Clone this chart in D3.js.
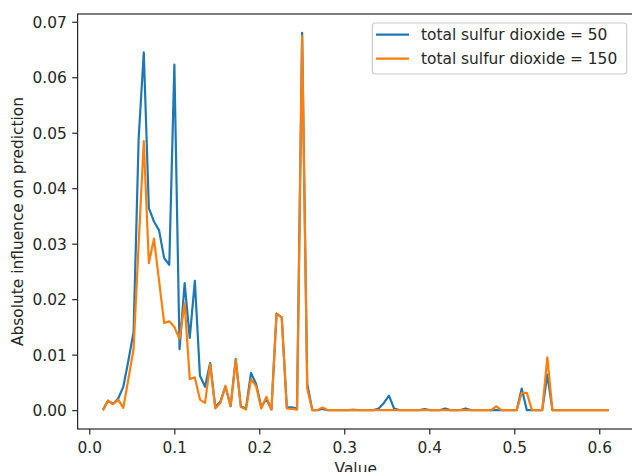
<!DOCTYPE html>
<html>
<head>
<meta charset="utf-8">
<script src="https://cdn.jsdelivr.net/npm/d3@7"></script>
<style>
  html, body { margin: 0; padding: 0; background: #fff; }
  svg { display: block; }
  text { font-family: "DejaVu Sans", sans-serif; fill: #262626; }
</style>
</head>
<body>
<svg id="chart" width="632" height="472"></svg>
<script>
// Grid of feature values (chlorides) at which influence was evaluated
const xValues = [
  0.0160, 0.0220, 0.0280, 0.0340, 0.0400, 0.0461, 0.0521, 0.0581, 0.0641, 0.0701,
  0.0761, 0.0821, 0.0881, 0.0941, 0.1001, 0.1062, 0.1122, 0.1182, 0.1242, 0.1302,
  0.1362, 0.1422, 0.1482, 0.1542, 0.1602, 0.1663, 0.1723, 0.1783, 0.1843, 0.1903,
  0.1963, 0.2023, 0.2083, 0.2143, 0.2203, 0.2264, 0.2324, 0.2384, 0.2444, 0.2504,
  0.2564, 0.2624, 0.2684, 0.2744, 0.2804, 0.2865, 0.2925, 0.2985, 0.3045, 0.3105,
  0.3165, 0.3225, 0.3285, 0.3345, 0.3405, 0.3466, 0.3526, 0.3586, 0.3646, 0.3706,
  0.3766, 0.3826, 0.3886, 0.3946, 0.4006, 0.4067, 0.4127, 0.4187, 0.4247, 0.4307,
  0.4367, 0.4427, 0.4487, 0.4547, 0.4607, 0.4668, 0.4728, 0.4788, 0.4848, 0.4908,
  0.4968, 0.5028, 0.5088, 0.5148, 0.5208, 0.5269, 0.5329, 0.5389, 0.5449, 0.5509,
  0.5569, 0.5629, 0.5689, 0.5749, 0.5809, 0.5870, 0.5930, 0.5990, 0.6050, 0.6110
];

// Absolute influence with total sulfur dioxide = 50
const influenceSO2_50 = [
  0.0000, 0.0017, 0.0011, 0.0021, 0.0042, 0.0090, 0.0141, 0.0490, 0.0645, 0.0364,
  0.0340, 0.0324, 0.0274, 0.0262, 0.0623, 0.0110, 0.0229, 0.0130, 0.0233, 0.0062,
  0.0042, 0.0085, 0.0006, 0.0015, 0.0042, 0.0007, 0.0092, 0.0007, 0.0003, 0.0067,
  0.0047, 0.0006, 0.0020, 0.0001, 0.0174, 0.0167, 0.0005, 0.0005, 0.0003, 0.0680,
  0.0048, 0.0000, 0.0000, 0.0002, 0.0000, 0.0000, 0.0000, 0.0000, 0.0000, 0.0000,
  0.0000, 0.0000, 0.0000, 0.0000, 0.0003, 0.0013, 0.0026, 0.0003, 0.0000, 0.0000,
  0.0000, 0.0000, 0.0000, 0.0002, 0.0000, 0.0000, 0.0000, 0.0003, 0.0000, 0.0000,
  0.0000, 0.0003, 0.0000, 0.0000, 0.0000, 0.0000, 0.0000, 0.0000, 0.0000, 0.0000,
  0.0000, 0.0000, 0.0039, 0.0000, 0.0000, 0.0000, 0.0000, 0.0064, 0.0000, 0.0000,
  0.0000, 0.0000, 0.0000, 0.0000, 0.0000, 0.0000, 0.0000, 0.0000, 0.0000, 0.0000
];

// Absolute influence with total sulfur dioxide = 150
const influenceSO2_150 = [
  0.0000, 0.0017, 0.0011, 0.0019, 0.0004, 0.0057, 0.0110, 0.0300, 0.0485, 0.0265,
  0.0309, 0.0233, 0.0157, 0.0160, 0.0150, 0.0128, 0.0193, 0.0056, 0.0059, 0.0019,
  0.0013, 0.0083, 0.0003, 0.0013, 0.0044, 0.0007, 0.0090, 0.0006, 0.0001, 0.0056,
  0.0043, 0.0003, 0.0024, 0.0001, 0.0174, 0.0167, 0.0003, 0.0002, 0.0001, 0.0674,
  0.0039, 0.0000, 0.0000, 0.0005, 0.0000, 0.0000, 0.0000, 0.0000, 0.0000, 0.0001,
  0.0000, 0.0000, 0.0000, 0.0000, 0.0000, 0.0000, 0.0000, 0.0000, 0.0000, 0.0000,
  0.0000, 0.0000, 0.0000, 0.0000, 0.0000, 0.0000, 0.0000, 0.0000, 0.0000, 0.0000,
  0.0000, 0.0000, 0.0000, 0.0000, 0.0000, 0.0000, 0.0000, 0.0007, 0.0000, 0.0000,
  0.0000, 0.0000, 0.0031, 0.0031, 0.0000, 0.0000, 0.0000, 0.0095, 0.0000, 0.0000,
  0.0000, 0.0000, 0.0000, 0.0000, 0.0000, 0.0000, 0.0000, 0.0000, 0.0000, 0.0000
];

const seriesLabels = ["total sulfur dioxide = 50", "total sulfur dioxide = 150"];
const seriesColors = ["#1f77b4", "#ff7f0e"];
const xTicks = [0.0, 0.1, 0.2, 0.3, 0.4, 0.5, 0.6];
const yTicks = [0.00, 0.01, 0.02, 0.03, 0.04, 0.05, 0.06, 0.07];
const xLabel = "Value";
const yLabel = "Absolute influence on prediction";

// Plot area in pixels
const plot = { left: 77.6, right: 633.9, top: 14, bottom: 429 };
const fontSize = 15.4;
const tickLen = 5.4;

const svg = d3.select("#chart");

// Axis limits with 5% padding around the data
const allY = influenceSO2_50.concat(influenceSO2_150);
const xMin = d3.min(xValues), xMax = d3.max(xValues);
const yMin = d3.min(allY), yMax = d3.max(allY);
const xPad = (xMax - xMin) * 0.05, yPad = (yMax - yMin) * 0.05;

const x = d3.scaleLinear().domain([xMin - xPad, xMax + xPad]).range([plot.left, plot.right]);
const y = d3.scaleLinear().domain([yMin - yPad, yMax + yPad]).range([plot.bottom, plot.top]);

const line = d3.line()
  .x(d => x(d[0]))
  .y(d => y(d[1]));

const series = [influenceSO2_50, influenceSO2_150];
series.forEach((vals, i) => {
  svg.append("path")
    .datum(xValues.map((xv, j) => [xv, vals[j]]))
    .attr("fill", "none")
    .attr("stroke", seriesColors[i])
    .attr("stroke-width", 2.2)
    .attr("stroke-linejoin", "round")
    .attr("stroke-linecap", "butt")
    .attr("d", line);
});

// Axes
const xAxis = d3.axisBottom(x).tickValues(xTicks).tickFormat(d3.format(".1f"))
  .tickSize(tickLen).tickPadding(5.4);
const yAxis = d3.axisLeft(y).tickValues(yTicks).tickFormat(d3.format(".2f"))
  .tickSize(tickLen).tickPadding(5.4);

const gx = svg.append("g").attr("transform", `translate(0,${plot.bottom})`).call(xAxis);
const gy = svg.append("g").attr("transform", `translate(${plot.left},0)`).call(yAxis);

[gx, gy].forEach(g => {
  g.select(".domain").remove();
  g.selectAll(".tick line").attr("stroke", "#262626").attr("stroke-width", 1.2);
  g.selectAll(".tick text")
    .style("font-family", "'DejaVu Sans', sans-serif")
    .style("font-size", fontSize + "px")
    .attr("fill", "#262626");
});
gx.selectAll(".tick text").attr("dy", null).attr("y", 24).attr("dominant-baseline", "auto");
gy.selectAll(".tick text").attr("dy", null).attr("y", 5.5);

// Frame around the plot area
svg.append("rect")
  .attr("x", plot.left).attr("y", plot.top)
  .attr("width", plot.right - plot.left).attr("height", plot.bottom - plot.top)
  .attr("fill", "none").attr("stroke", "#262626").attr("stroke-width", 1.2);

// Axis titles
svg.append("text")
  .attr("x", (plot.left + plot.right) / 2).attr("y", 474)
  .attr("text-anchor", "middle")
  .style("font-size", fontSize + "px")
  .text(xLabel);

svg.append("text")
  .attr("transform", `translate(23,${(plot.top + plot.bottom) / 2}) rotate(-90)`)
  .attr("text-anchor", "middle")
  .style("font-size", fontSize + "px")
  .text(yLabel);

// Legend
const legend = svg.append("g");
legend.append("rect")
  .attr("x", 372.3).attr("y", 23).attr("width", 254.4).attr("height", 51)
  .attr("rx", 3).attr("ry", 3)
  .attr("fill", "#fff").attr("fill-opacity", 0.8)
  .attr("stroke", "#cccccc").attr("stroke-width", 1.2);

seriesLabels.forEach((lab, i) => {
  const ly = 34.7 + i * 24;
  legend.append("line")
    .attr("x1", 376).attr("x2", 409)
    .attr("y1", ly).attr("y2", ly)
    .attr("stroke", seriesColors[i]).attr("stroke-width", 2.2);
  legend.append("text")
    .attr("x", 421).attr("y", ly + 5.5)
    .style("font-size", fontSize + "px")
    .text(lab);
});
</script>
</body>
</html>
